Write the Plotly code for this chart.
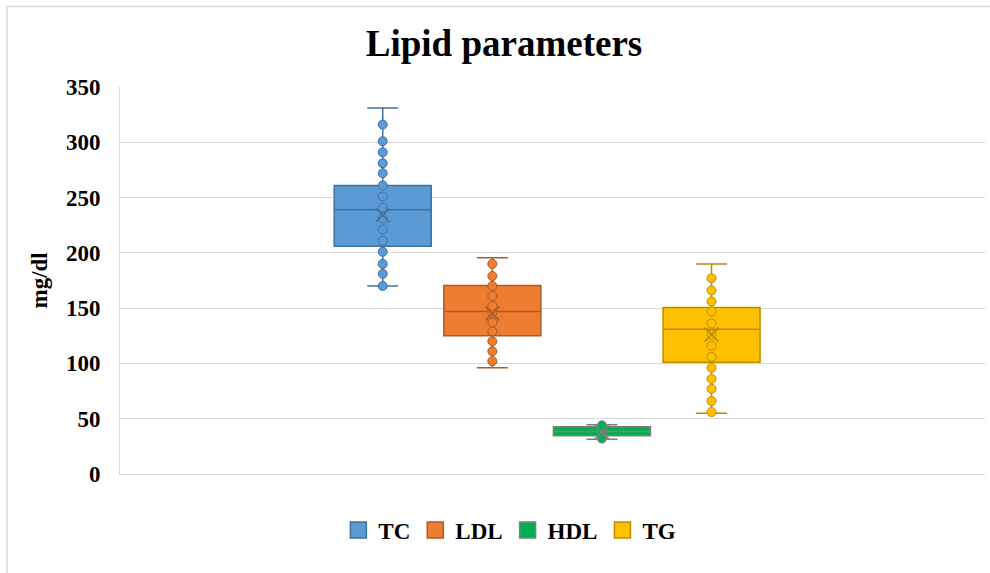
import plotly.graph_objects as go

# ---- data ----
categories = ["TC", "LDL", "HDL", "TG"]
q1 = [206, 125, 34.5, 101]
median = [239, 147, 38.5, 131]
q3 = [261, 170.5, 42.8, 150.5]
lower_whisker = [170, 96, 31.5, 55]
upper_whisker = [331, 195.5, 44.5, 190]
means = [234, 145, 38, 126]

tc_points = [170, 181, 190, 201, 211, 221, 231, 241, 251, 261, 272, 281, 291, 301, 316]
ldl_points = [102, 111, 120, 129, 137, 146, 152, 161, 170, 179, 190]
hdl_points = [32, 35, 38, 41, 44]
tg_points = [56, 66, 77, 86, 96, 106, 116, 126, 136, 147, 156, 166, 177]
points = [tc_points, ldl_points, hdl_points, tg_points]

fill_colors = ["#5B9BD5", "#ED7D31", "#00B050", "#FFC000"]
line_colors = ["#41719C", "#AE5A21", "#7F7F7F", "#BC8C00"]

FONT = "Liberation Serif"

fig = go.Figure()

for i, cat in enumerate(categories):
    fig.add_trace(go.Box(
        x=[i], q1=[q1[i]], median=[median[i]], q3=[q3[i]],
        lowerfence=[lower_whisker[i]], upperfence=[upper_whisker[i]],
        width=0.885, whiskerwidth=0.32,
        fillcolor=fill_colors[i],
        line=dict(color=line_colors[i], width=1.5),
        boxpoints=False, showlegend=False, hoverinfo="skip",
    ))
    fig.add_trace(go.Scatter(
        x=[i] * len(points[i]), y=points[i], mode="markers",
        marker=dict(size=9, color=fill_colors[i],
                    line=dict(color=line_colors[i], width=1)),
        showlegend=False, hoverinfo="skip",
    ))
    fig.add_trace(go.Scatter(
        x=[i], y=[means[i]], mode="markers",
        marker=dict(symbol="x-thin", size=14,
                    line=dict(color=line_colors[i], width=1.6)),
        showlegend=False, hoverinfo="skip",
    ))

for i, cat in enumerate(categories):
    fig.add_trace(go.Scatter(
        x=[None], y=[None], mode="markers", name=cat,
        marker=dict(symbol="square", size=16, color=fill_colors[i],
                    line=dict(color=line_colors[i], width=1.5)),
    ))

fig.update_layout(
    width=990, height=573,
    margin=dict(l=120, r=5, t=87, b=99),
    paper_bgcolor="white", plot_bgcolor="white",
    font=dict(family=FONT, color="#000000"),
    title=dict(text="<b>Lipid parameters</b>", font=dict(size=37, family=FONT, color="#000000"),
               x=504 / 990, xref="container", xanchor="center",
               y=1 - 43 / 573, yref="container", yanchor="middle"),
    showlegend=True,
    legend=dict(orientation="h", x=0.515, xref="container", xanchor="center",
                y=1 - 530 / 573, yref="container", yanchor="middle",
                font=dict(size=23, family=FONT, color="#000000"),
                traceorder="normal"),
    xaxis=dict(range=[-2.397, 5.495], showgrid=False, zeroline=False,
               showticklabels=False, showline=True, linecolor="#D9D9D9", linewidth=1),
    yaxis=dict(range=[0, 350], dtick=50, tick0=0, showgrid=True, gridcolor="#D9D9D9",
               gridwidth=1, zeroline=False, showline=True, linecolor="#D9D9D9",
               tickfont=dict(size=23, family=FONT, color="#000000"),
               ticklabelstandoff=14),
    shapes=[dict(type="rect", xref="paper", yref="paper",
                 x0=(7 - 120) / 865, x1=1.2, y0=-0.5, y1=(474 - 6.5) / 387,
                 line=dict(color="#D9D9D9", width=1.5), fillcolor="rgba(0,0,0,0)", layer="below")],
    annotations=[dict(text="<b>mg/dl</b>", textangle=-90, xref="paper", yref="paper",
                      x=(39 - 120) / 865, y=0.5, xanchor="center", yanchor="middle",
                      showarrow=False, font=dict(size=23, family=FONT, color="#000000"))],
)

# bold tick labels
fig.update_yaxes(tickprefix="<b>", ticksuffix="</b>")
fig.for_each_trace(lambda t: t.update(name=f"<b>{t.name}</b>") if t.name in categories else None)

fig.write_html("out.html")
